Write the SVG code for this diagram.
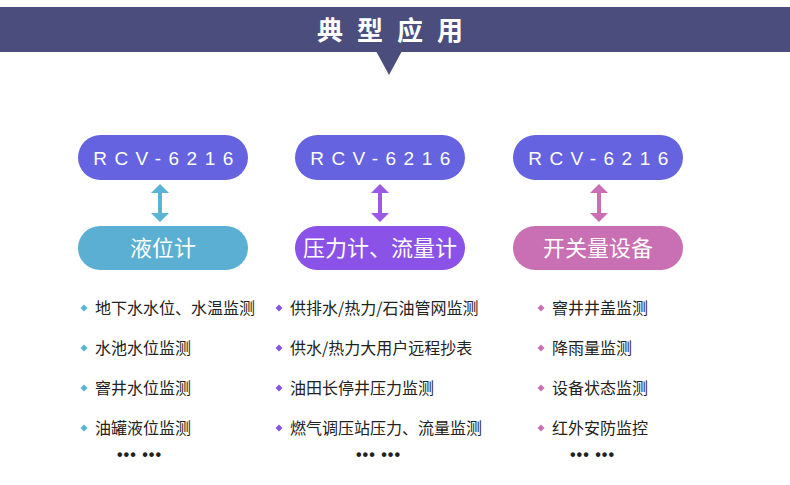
<svg xmlns="http://www.w3.org/2000/svg" width="790" height="485" viewBox="0 0 790 485">
<style>
.title{font-family:"Noto Sans CJK SC",sans-serif;font-weight:bold;font-size:26px;fill:#fff;letter-spacing:14px}
.rcv{font-family:"Liberation Sans","Noto Sans CJK SC",sans-serif;font-size:19px;fill:#fff;letter-spacing:7.5px}
.lab{font-family:"Noto Sans CJK SC",sans-serif;font-size:22px;fill:#fff}
.item{font-family:"Noto Sans CJK SC",sans-serif;font-size:16px;fill:#222}
.dots{font-family:"Liberation Sans",sans-serif;font-size:16px;font-weight:bold;fill:#222;letter-spacing:1px}
.dev{fill:#6563e0}
</style>
<defs>
<path id="dia" d="M0,-3.5 L3.5,0 L0,3.5 L-3.5,0 Z"/>
</defs>
<rect width="790" height="485" fill="#fff"/>
<g id="header">
<rect x="0" y="7" width="790" height="45" fill="#4b4d7d"/>
<polygon points="376,51 402,51 389,75" fill="#4b4d7d"/>
<text class="title" x="397" y="40" text-anchor="middle">典型应用</text>
</g>
<g id="connectors" stroke-width="4" fill="none">
<g stroke="#5ab4d4" fill="#5ab4d4"><line x1="160" y1="190" x2="160" y2="216"/><polygon points="151,193 160,184 169,193" stroke="none"/><polygon points="151,213 160,222 169,213" stroke="none"/></g>
<g stroke="#9a5ae6" fill="#9a5ae6"><line x1="380" y1="190" x2="380" y2="216"/><polygon points="371,193 380,184 389,193" stroke="none"/><polygon points="371,213 380,222 389,213" stroke="none"/></g>
<g stroke="#cc6eb4" fill="#cc6eb4"><line x1="599" y1="190" x2="599" y2="216"/><polygon points="590,193 599,184 608,193" stroke="none"/><polygon points="590,213 599,222 608,213" stroke="none"/></g>
</g>
<g id="dev1"><rect class="dev" x="78" y="135" width="170" height="45" rx="22.5"/><text class="rcv" x="167" y="165" text-anchor="middle">RCV-6216</text></g>
<g id="dev2"><rect class="dev" x="295" y="135" width="170" height="45" rx="22.5"/><text class="rcv" x="384" y="165" text-anchor="middle">RCV-6216</text></g>
<g id="dev3"><rect class="dev" x="513" y="135" width="170" height="45" rx="22.5"/><text class="rcv" x="602" y="165" text-anchor="middle">RCV-6216</text></g>
<g id="cat1"><rect x="78" y="226" width="170" height="44" rx="22" fill="#5aafd2"/><text class="lab" x="163" y="256" text-anchor="middle">液位计</text></g>
<g id="cat2"><rect x="295" y="226" width="170" height="44" rx="22" fill="#8b52e8"/><text class="lab" x="380" y="256" text-anchor="middle">压力计、流量计</text></g>
<g id="cat3"><rect x="513" y="226" width="170" height="44" rx="22" fill="#c96fb3"/><text class="lab" x="598" y="256" text-anchor="middle">开关量设备</text></g>
<g id="list1">
<g fill="#5ab4d4"><use href="#dia" x="84" y="308"/><use href="#dia" x="84" y="348"/><use href="#dia" x="84" y="388"/><use href="#dia" x="84" y="428"/></g>
<text class="item" x="95" y="314">地下水水位、水温监测</text>
<text class="item" x="95" y="354">水池水位监测</text>
<text class="item" x="95" y="394">窨井水位监测</text>
<text class="item" x="95" y="434">油罐液位监测</text>
<text class="dots" x="117" y="460">••• •••</text>
</g>
<g id="list2">
<g fill="#8b52e8"><use href="#dia" x="279" y="308"/><use href="#dia" x="279" y="348"/><use href="#dia" x="279" y="388"/><use href="#dia" x="279" y="428"/></g>
<text class="item" x="290" y="314">供排水/热力/石油管网监测</text>
<text class="item" x="290" y="354">供水/热力大用户远程抄表</text>
<text class="item" x="290" y="394">油田长停井压力监测</text>
<text class="item" x="290" y="434">燃气调压站压力、流量监测</text>
<text class="dots" x="356" y="460">••• •••</text>
</g>
<g id="list3">
<g fill="#c96fb3"><use href="#dia" x="541" y="308"/><use href="#dia" x="541" y="348"/><use href="#dia" x="541" y="388"/><use href="#dia" x="541" y="428"/></g>
<text class="item" x="552" y="314">窨井井盖监测</text>
<text class="item" x="552" y="354">降雨量监测</text>
<text class="item" x="552" y="394">设备状态监测</text>
<text class="item" x="552" y="434">红外安防监控</text>
<text class="dots" x="570" y="460">••• •••</text>
</g>
</svg>
